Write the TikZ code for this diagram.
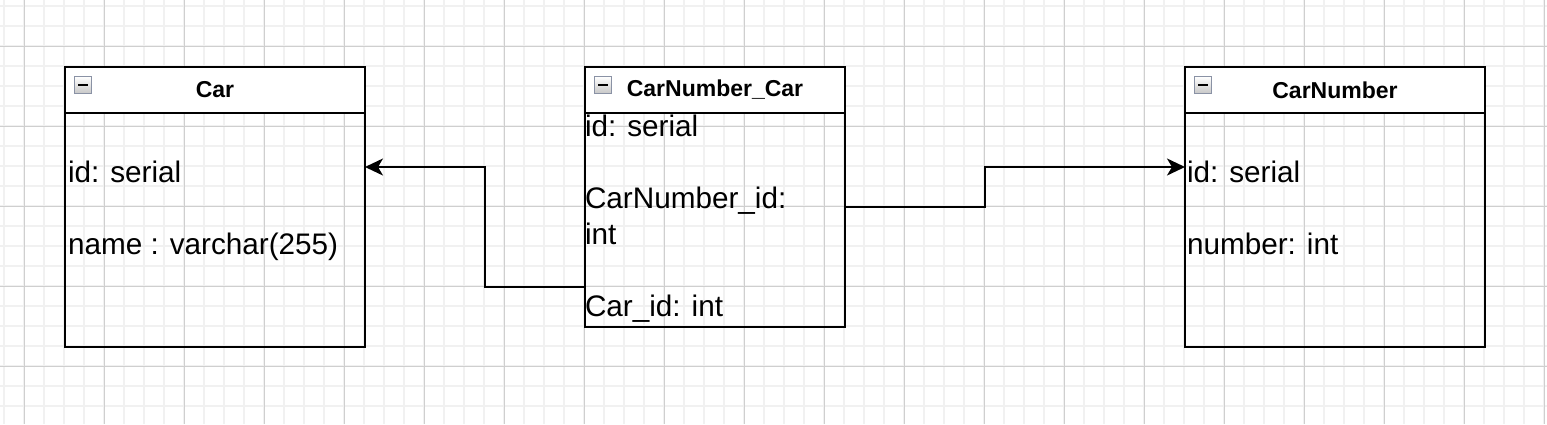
\documentclass[tikz,border=0pt]{standalone}
\usepackage{fontspec}
\setmainfont{Liberation Sans}
\usetikzlibrary{arrows.meta}
\definecolor{minorgrid}{HTML}{F1F1F1}
\definecolor{majorgrid}{HTML}{CFCFCF}
\definecolor{iconborder}{HTML}{8A92A5}
\tikzset{
  minorline/.style={draw=minorgrid, line width=1.6pt},
  majorline/.style={draw=majorgrid, line width=1pt},
  tablebody/.style={draw=black, line width=2pt, anchor=north west, outer sep=0pt, inner sep=0pt},
  tablehead/.style={draw=black, fill=white, line width=2pt, anchor=north west, outer sep=0pt, inner sep=0pt, minimum height=46pt},
  tabletitle/.style={font=\bfseries\fontsize{23}{27}\selectfont, inner sep=0pt},
  attr/.style={font=\fontsize{29.7}{36}\selectfont, anchor=base west, inner sep=0pt, outer sep=0pt},
  minusicon/.style={draw=iconborder, line width=1.2pt, top color=white, bottom color=black!22, minimum size=17pt, inner sep=0pt, outer sep=0pt},
  minusbar/.style={draw=black, line width=2.2pt},
  link/.style={draw=black, line width=2pt, -{Stealth[length=18pt, width=17pt, inset=5pt]}},
}
\begin{document}
\begin{tikzpicture}[x=1pt, y=-1pt]
\useasboundingbox (0,0) rectangle (1547,424);
\fill[white] (0,0) rectangle (1547,424);
\begin{scope}
\clip (0,0) rectangle (1547,424);
\foreach \gx in {4,24,...,1544} \draw[minorline] (\gx,0) -- (\gx,424);
\foreach \gy in {6,26,...,426} \draw[minorline] (0,\gy) -- (1547,\gy);
\foreach \gx in {24,104,...,1544} \draw[majorline] (\gx,0) -- (\gx,424);
\foreach \gy in {46,126,...,366} \draw[majorline] (0,\gy) -- (1547,\gy);
\end{scope}

% Car table
\node[tablebody, minimum width=300pt, minimum height=280pt] (car) at (65,67) {};
\node[tablehead, minimum width=300pt] (carhead) at (65,67) {};
\node[tabletitle] (cartitle) at (carhead.center) {Car};
\node[minusicon] (caricon) at (83,85) {};
\draw[minusbar] ([xshift=-5pt]caricon.center) -- ([xshift=5pt]caricon.center);
\node[attr] (carid) at (68,182.5) {id: serial};
\node[attr] (carname) at (68,254) {name : varchar(255)};

% CarNumber_Car table
\node[tablebody, minimum width=260pt, minimum height=260pt] (link) at (585,67) {};
\node[tablehead, minimum width=260pt] (linkhead) at (585,67) {};
\node[tabletitle] (linktitle) at (linkhead.center) {CarNumber\_Car};
\node[minusicon] (linkicon) at (603,85) {};
\draw[minusbar] ([xshift=-5pt]linkicon.center) -- ([xshift=5pt]linkicon.center);
\node[attr] (linkid) at (585,136.5) {id: serial};
\node[attr] (linknum) at (585,208) {CarNumber\_id:};
\node[attr] (linknumtype) at (585,244) {int};
\node[attr] (linkcar) at (585,316) {Car\_id: int};

% CarNumber table
\node[tablebody, minimum width=300pt, minimum height=280pt] (num) at (1185,67) {};
\node[tablehead, minimum width=300pt] (numhead) at (1185,67) {};
\node[tabletitle] (numtitle) at (numhead.center) {CarNumber};
\node[minusicon] (numicon) at (1203,85) {};
\draw[minusbar] ([xshift=-5pt]numicon.center) -- ([xshift=5pt]numicon.center);
\node[attr] (numid) at (1187,182.5) {id: serial};
\node[attr] (numnumber) at (1187,254.5) {number: int};

% connectors
\coordinate (carin) at (365,167);
\coordinate (linkout1) at (585,287);
\draw[link] (link.west |- linkout1) -- (485,287) -- (485,167) -- (car.east |- carin);
\coordinate (linkout2) at (845,207);
\coordinate (numin) at (1185,167);
\draw[link] (link.east |- linkout2) -- (985,207) -- (985,167) -- (num.west |- numin);
\end{tikzpicture}
\end{document}
